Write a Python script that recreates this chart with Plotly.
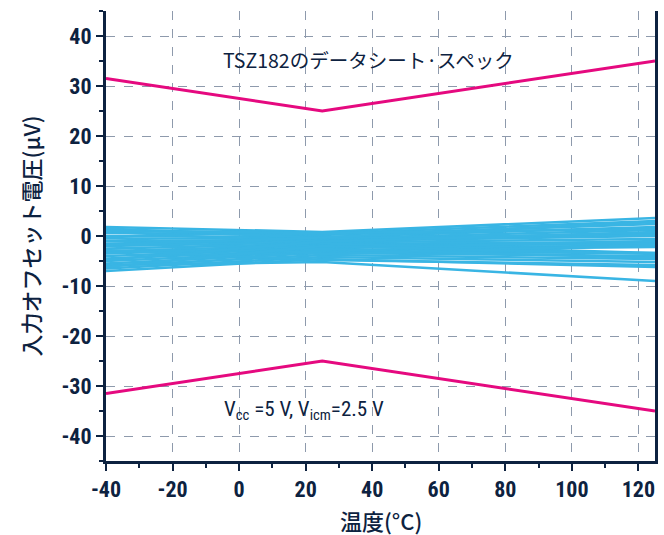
import plotly.graph_objects as go

# Temperature points (°C) where each offset curve is sampled
temps = [-40, 25, 125]

# Input offset voltage (µV) of each measured unit at -40, 25 and 125 °C
units = [
    [1.8, 0.8, 3.6],
    [1.2, 0.5, 3.0],
    [0.6, 0.2, 2.4],
    [0.0, -0.2, 1.8],
    [-0.5, -0.5, 1.2],
    [-1.0, -0.8, 0.6],
    [-1.5, -1.0, 0.0],
    [-2.0, -1.3, -0.6],
    [-2.5, -1.6, -1.2],
    [-3.0, -1.9, -1.6],
    [-3.5, -2.2, -2.0],
    [-4.0, -2.5, -1.0],
    [-4.5, -2.8, -2.2],
    [-5.0, -3.1, -3.4],
    [-5.5, -3.4, -4.0],
    [-6.0, -3.8, -4.6],
    [-6.5, -4.2, -5.2],
    [-7.0, -4.6, -6.2],
    [-5.8, -5.2, -9.0],
    [1.5, -0.4, 0.2],
    [0.9, -1.5, -3.4],
    [-1.8, -0.3, 2.8],
    [-3.2, -2.6, -4.4],
    [-0.2, -3.6, -1.8],
    [1.0, 0.6, 1.4],
    [-4.8, -1.1, 0.8],
    [-2.8, -4.8, -5.8],
    [-6.2, -2.0, -3.6],
]

# Datasheet limits (µV)
spec_upper = [31.5, 25.0, 35.0]
spec_lower = [-31.5, -25.0, -35.0]

x_ticks = [-40, -20, 0, 20, 40, 60, 80, 100, 120]
y_ticks = [-40, -30, -20, -10, 0, 10, 20, 30, 40]

navy = "#0d2240"
blue = "#39b5e4"
magenta = "#e5097f"
grid = "#8e9aac"
font_family = "Liberation Sans Narrow, Roboto Condensed, Roboto, Arial Narrow, sans-serif"
cjk_family = "Noto Sans CJK JP, Noto Sans, sans-serif"

W, H = 664, 535
L, R, T, B = 106, 6, 11, 74
pw, ph = W - L - R, H - T - B

fig = go.Figure()

for u in units:
    fig.add_trace(go.Scatter(x=temps, y=u, mode="lines",
                             line=dict(color=blue, width=2.6),
                             hoverinfo="skip", showlegend=False))

for s in (spec_upper, spec_lower):
    fig.add_trace(go.Scatter(x=temps, y=s, mode="lines",
                             line=dict(color=magenta, width=3),
                             showlegend=False))

axis_common = dict(
    showline=True, linecolor=navy, linewidth=3,
    ticks="outside", tickcolor=navy, tickwidth=2, ticklen=7,
    showgrid=True, gridcolor=grid, gridwidth=1, griddash="dash",
    zeroline=False,
    tickfont=dict(family=font_family, size=22, color=navy, weight="bold"),
)

fig.update_xaxes(
    range=[-40, 125], tickvals=x_ticks, ticktext=[str(v) for v in x_ticks],
    minor=dict(dtick=10, tick0=0, ticks="outside", ticklen=4, tickcolor=navy,
               tickwidth=2, showgrid=False),
    **axis_common,
)
fig.update_yaxes(
    range=[-45, 45], tickvals=y_ticks, ticktext=[str(v) for v in y_ticks],
    mirror=True,
    minor=dict(dtick=5, tick0=0, ticks="outside", ticklen=4, tickcolor=navy,
               tickwidth=2, showgrid=False),
    **axis_common,
)

fig.add_annotation(x=39, y=35.3, xref="x", yref="y", showarrow=False,
                   text="TSZ182のデータシート·スペック",
                   font=dict(family=cjk_family, size=19.5, color=navy))
fig.add_annotation(x=19.5, y=-34.8, xref="x", yref="y", showarrow=False,
                   text="V<sub>cc</sub> =5 V, V<sub>icm</sub>=2.5 V",
                   font=dict(family=font_family, size=21, color=navy))

# Axis titles, placed in pixel terms relative to the plot area
fig.add_annotation(x=(382 - L) / pw, y=(H - B - 520) / ph, xref="paper", yref="paper",
                   xanchor="center", yanchor="middle", showarrow=False,
                   text="温度(°C)",
                   font=dict(family=cjk_family, size=22, color=navy, weight=500))
fig.add_annotation(x=(30 - L) / pw, y=(H - B - 236) / ph, xref="paper", yref="paper",
                   xanchor="center", yanchor="middle", showarrow=False, textangle=-90,
                   text="入力オフセット電圧(μV)",
                   font=dict(family=cjk_family, size=22, color=navy, weight=500))

fig.update_layout(
    width=W, height=H,
    margin=dict(l=L, r=R, t=T, b=B),
    plot_bgcolor="white", paper_bgcolor="white",
)

fig.write_html("out.html")
